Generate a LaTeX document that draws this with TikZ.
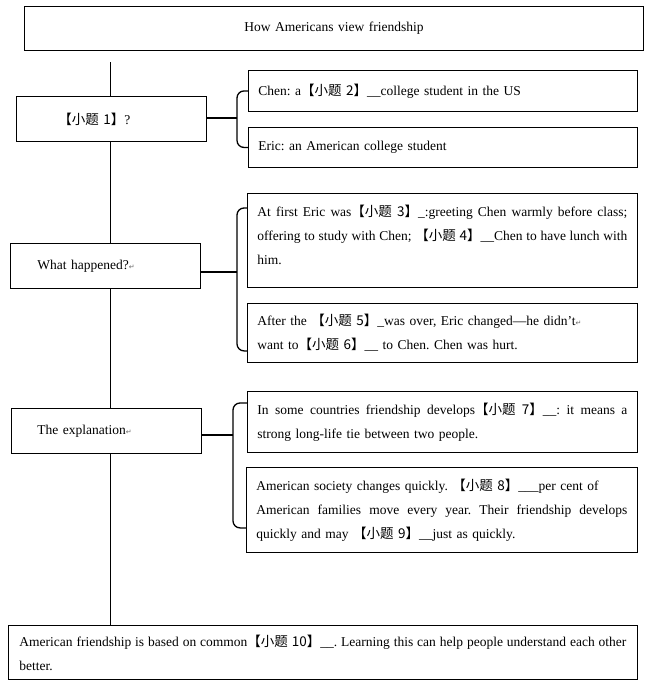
\documentclass[tikz,border=0pt]{standalone}
\usepackage{fontspec}
\setmainfont{Liberation Serif}
\newfontfamily\cjk{Noto Sans CJK SC}
\newfontfamily\symf{DejaVu Sans}
\usepackage{tikz}
\frenchspacing
\newcommand{\xt}[1]{{\cjk【#1】}}
\newcommand{\full}[1]{\makebox[\linewidth][s]{\spaceskip=.18em plus .5em minus .02em\relax #1}}
\newcommand{\pmark}{{\symf\fontsize{7}{7}\selectfont\textcolor{black!60}{↵}}}

\begin{document}
\begin{tikzpicture}[x=1pt,y=-1pt,
  box/.style={draw,line width=0.9pt,anchor=north west,align=left,inner ysep=0pt,inner xsep=10pt,font=\fontsize{13.5}{24}\selectfont},
  brace/.style={line width=1.3pt,rounded corners=7pt}]
\useasboundingbox (0,0) rectangle (650,683);
% title and left column
\node[box,text width=599pt,align=center,minimum height=44pt] (title) at (24,6) {How Americans view friendship};
\node[box,text width=106pt,inner xsep=42pt,minimum height=45pt] (who) at (16,96) {\xt{小题 1}?};
\node[box,text width=136pt,inner xsep=27pt,minimum height=45pt] (what) at (10,243) {What happened?\pmark};
\node[box,text width=138pt,inner xsep=26pt,minimum height=45pt] (why) at (11,408) {The explanation\pmark};
\node[box,text width=607pt,inner xsep=11pt,minimum height=54pt] (basis) at (8,625) {\full{American friendship is based on common\xt{小题 10}\_\_. Learning this can help people understand each other}\\ better.};
% right column
\node[box,text width=369pt,minimum height=41pt] (chen) at (248,70) {Chen: a\xt{小题 2}\_\_college student in the US};
\node[box,text width=369pt,minimum height=40pt] (eric) at (248,127) {Eric: an American college student};
\node[box,text width=370pt,minimum height=94pt] (first) at (247,193) {\full{At first Eric was\xt{小题 3}\_:greeting Chen warmly before class;}\\ \full{offering to study with Chen; \xt{小题 4}\_\_Chen to have lunch with}\\ him.\par\kern11pt};
\node[box,text width=370pt,minimum height=59pt] (after) at (247,303) {After the \xt{小题 5}\_was over, Eric changed—he didn’t\pmark\\ want to\xt{小题 6}\_\_ to Chen. Chen was hurt.};
\node[box,text width=370pt,minimum height=61pt] (some) at (247,391) {\full{In some countries friendship develops\xt{小题 7}\_\_: it means a}\\ strong long-life tie between two people.};
\node[box,text width=371pt,minimum height=85pt] (society) at (246,467) {American society changes quickly. \xt{小题 8}\_\_\_per cent of\\ \full{American families move every year. Their friendship develops}\\ quickly and may \xt{小题 9}\_\_just as quickly.};
% spine
\coordinate (top) at (110,62);
\draw[line width=0.9pt] (top) -- (top |- who.north);
\draw[line width=0.9pt] (top |- who.south) -- (top |- what.north);
\draw[line width=0.9pt] (top |- what.south) -- (top |- why.north);
\draw[line width=0.9pt] (top |- why.south) -- (top |- basis.north);
% brackets
\coordinate (b1) at (237,118);
\draw[line width=1.3pt] (who.east |- b1) -- (b1);
\draw[brace] (chen.west) -| (b1) |- (eric.west);
\coordinate (b2) at (237,272);
\draw[line width=1.3pt] (what.east |- b2) -- (b2);
\draw[brace] ([yshift=-15pt]first.north west) -| (b2) |- ([yshift=12pt]after.south west);
\coordinate (b3) at (233,435);
\draw[line width=1.3pt] (why.east |- b3) -- (b3);
\draw[brace] ([yshift=-12pt]some.north west) -| (b3) |- ([yshift=25pt]society.south west);
\end{tikzpicture}
\end{document}
